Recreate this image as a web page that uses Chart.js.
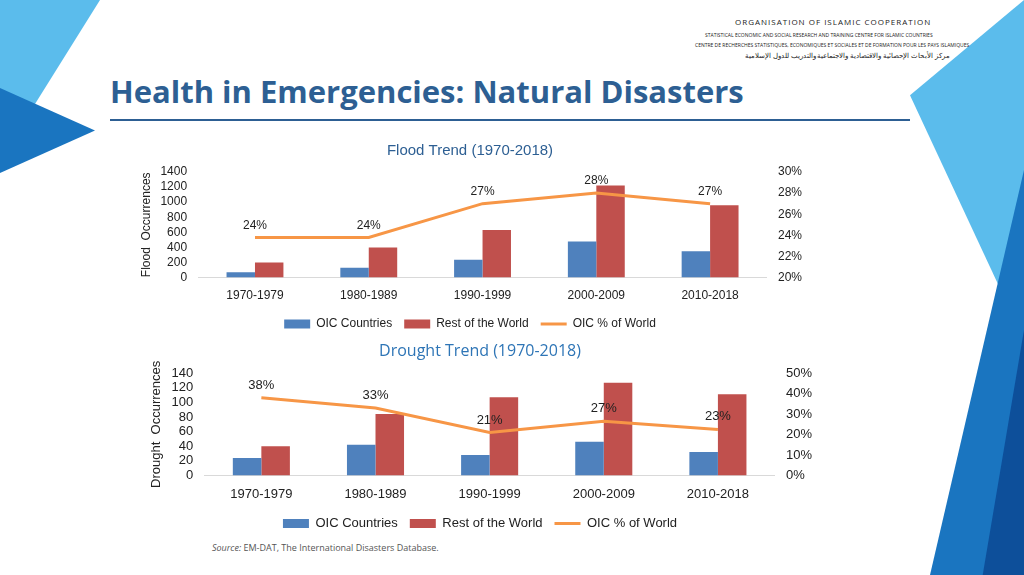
<!DOCTYPE html>
<html>
<head>
<meta charset="utf-8">
<script src="https://cdn.jsdelivr.net/npm/chart.js@4"></script>
<style>
  body { margin: 0; width: 1024px; height: 575px; position: relative; overflow: hidden; background: #fff; font-family: "Open Sans", sans-serif; }
  .tri { position: absolute; }
  .box { position: absolute; }
</style>
</head>
<body>
<div class="tri" style="left:0;top:0;width:100px;height:160px;background:#5bbcec;clip-path:polygon(0 0,100% 0,0 100%);"></div>
<div class="tri" style="left:0;top:88px;width:95px;height:85px;background:#1a75c0;clip-path:polygon(0 0,100% 50%,0 100%);"></div>
<div class="tri" style="left:910px;top:0;width:114px;height:340px;background:#5bbcec;clip-path:polygon(100% 0,0 28%,100% 100%);"></div>
<div class="tri" style="left:930px;top:170px;width:94px;height:405px;background:#1a75c0;clip-path:polygon(100% 0,0 100%,100% 100%);"></div>
<div class="tri" style="left:965px;top:330px;width:59px;height:245px;background:#0d4f9a;clip-path:polygon(100% 0,30% 100%,100% 100%);"></div>

<div class="box" style="left:110px;top:70px;font-size:31px;font-weight:bold;color:#2d5f93;">Health in Emergencies: Natural Disasters</div>
<div class="box" style="left:110px;top:119px;width:800px;height:2px;background:#2d5f93;"></div>
<div class="box" style="left:735px;top:16px;font-size:8px;letter-spacing:1px;color:#222;">ORGANISATION OF ISLAMIC COOPERATION</div>
<div class="box" style="left:705px;top:32px;font-size:5px;color:#222;">STATISTICAL ECONOMIC AND SOCIAL RESEARCH AND TRAINING CENTRE FOR ISLAMIC COUNTRIES</div>
<div class="box" style="left:695px;top:42px;font-size:5px;color:#222;">CENTRE DE RECHERCHES STATISTIQUES, ECONOMIQUES ET SOCIALES ET DE FORMATION POUR LES PAYS ISLAMIQUES</div>
<div class="box" style="left:745px;top:51px;font-size:7px;color:#222;">مركز الأبحاث الإحصائية والاقتصادية والاجتماعية والتدريب للدول الإسلامية</div>

<div class="box" style="left:135px;top:142px;width:670px;height:198px;"><canvas id="flood"></canvas></div>
<div class="box" style="left:145px;top:342px;width:670px;height:198px;"><canvas id="drought"></canvas></div>
<div class="box" style="left:212px;top:541px;font-size:9px;color:#555;"><i>Source:</i> EM-DAT, The International Disasters Database.</div>

<script>
const categories = ["1970-1979", "1980-1989", "1990-1999", "2000-2009", "2010-2018"];
const floodOic = [70, 130, 235, 480, 350];
const floodRest = [200, 400, 630, 1220, 960];
const floodPct = [23.8, 23.8, 27, 28, 27];
const floodPctLabels = ["24%", "24%", "27%", "28%", "27%"];
const droughtOic = [24, 42, 28, 46, 32];
const droughtRest = [40, 84, 107, 127, 111];
const droughtPct = [38, 33, 21, 26.5, 22.5];
const droughtPctLabels = ["38%", "33%", "21%", "27%", "23%"];

const pctLabels = {
  id: "pctLabels",
  afterDatasetsDraw(chart) {
    const ctx = chart.ctx;
    const meta = chart.getDatasetMeta(2);
    const labels = chart.options.plugins.pctLabels.labels;
    ctx.save();
    ctx.font = chart.options.plugins.pctLabels.font;
    ctx.fillStyle = "#222";
    ctx.textAlign = "center";
    ctx.textBaseline = "bottom";
    meta.data.forEach((p, i) => ctx.fillText(labels[i], p.x, p.y - 6));
    ctx.restore();
  }
};

function makeChart(id, opts) {
  const fs = opts.fontSize;
  const font = { size: fs, family: "Liberation Sans" };
  new Chart(document.getElementById(id), {
    data: {
      labels: categories,
      datasets: [
        { type: "bar", label: "OIC Countries", data: opts.oic, backgroundColor: "#4f81bd", pointStyle: "rect", yAxisID: "y", order: 2, categoryPercentage: 0.5, barPercentage: 1 },
        { type: "bar", label: "Rest of the World", data: opts.rest, backgroundColor: "#c0504d", pointStyle: "rect", yAxisID: "y", order: 2, categoryPercentage: 0.5, barPercentage: 1 },
        { type: "line", label: "OIC % of World", data: opts.pct, borderColor: "#f79646", backgroundColor: "#f79646", borderWidth: 3, pointRadius: 0, pointStyle: "line", yAxisID: "y1", order: 1 }
      ]
    },
    options: {
      responsive: true, maintainAspectRatio: false, animation: false,
      plugins: {
        title: { display: true, text: opts.title, color: opts.titleColor, font: { size: opts.titleSize, family: opts.titleFamily, weight: "normal" }, padding: { top: 0, bottom: 12 } },
        legend: { position: "bottom", labels: { usePointStyle: true, pointStyleWidth: 26, boxHeight: 9, color: "#222", font, padding: 12,
          sort: (a, b) => a.datasetIndex - b.datasetIndex } },
        tooltip: { enabled: false },
        pctLabels: { labels: opts.pctLabels, font: fs + "px 'Liberation Sans'" }
      },
      scales: {
        x: { grid: { display: false }, border: { color: "#d9d9d9" }, ticks: { color: "#222", font } },
        y: { min: 0, max: opts.yMax, ticks: { stepSize: opts.yStep, autoSkip: false, color: "#222", font, callback: v => String(v) }, grid: { display: false }, border: { display: false },
             title: { display: true, text: opts.yTitle, color: "#222", font } },
        y1: { position: "right", min: opts.pMin, max: opts.pMax, ticks: { stepSize: opts.pStep, autoSkip: false, color: "#222", font, callback: v => v + "%" }, grid: { display: false }, border: { display: false } }
      }
    },
    plugins: [pctLabels]
  });
}

makeChart("flood", { oic: floodOic, rest: floodRest, pct: floodPct, pctLabels: floodPctLabels, title: "Flood Trend (1970-2018)", titleColor: "#2d5f93", titleSize: 15, titleFamily: "Liberation Sans",
  yTitle: "Flood  Occurrences", yMax: 1400, yStep: 200, pMin: 20, pMax: 30, pStep: 2, fontSize: 12 });
makeChart("drought", { oic: droughtOic, rest: droughtRest, pct: droughtPct, pctLabels: droughtPctLabels, title: "Drought Trend (1970-2018)", titleColor: "#2e75b6", titleSize: 16, titleFamily: "Open Sans",
  yTitle: "Drought  Occurrences", yMax: 140, yStep: 20, pMin: 0, pMax: 50, pStep: 10, fontSize: 13 });
</script>
</body>
</html>
